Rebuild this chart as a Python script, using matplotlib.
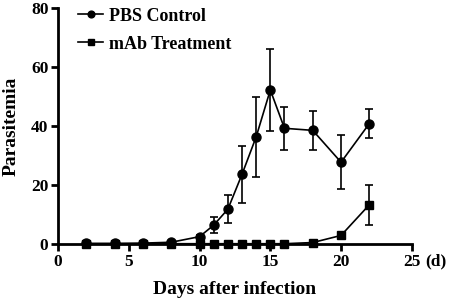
import matplotlib
matplotlib.use("Agg")
import matplotlib.pyplot as plt

days = [2, 4, 6, 8, 10, 11, 12, 13, 14, 15, 16, 18, 20, 22]
pbs_mean = [0.2, 0.2, 0.3, 0.6, 2.5, 6.4, 11.8, 23.6, 36.3, 52.2, 39.2, 38.5, 27.7, 40.8]
pbs_err = [0.1, 0.1, 0.2, 0.3, 0.5, 2.6, 4.8, 9.6, 13.5, 14.0, 7.3, 6.5, 9.1, 5.0]
mab_mean = [0.1, 0.1, 0.1, 0.1, 0.1, 0.1, 0.1, 0.1, 0.1, 0.1, 0.1, 0.5, 2.9, 13.3]
mab_err = [0, 0, 0, 0, 0, 0, 0, 0, 0, 0, 0, 0.3, 1.0, 6.8]
x_ticks = [0, 5, 10, 15, 20, 25]
y_ticks = [0, 20, 40, 60, 80]

plt.rcParams['font.family'] = ['Liberation Serif', 'DejaVu Serif']
plt.rcParams['font.weight'] = 'bold'

fig = plt.figure(figsize=(4.54, 3.02), dpi=100)
ax = fig.add_axes([0.128, 0.192, 0.779, 0.782])

ax.errorbar(days, pbs_mean, yerr=pbs_err, color='black', marker='o', markersize=6.5,
            linewidth=1.2, elinewidth=1.2, capsize=3, capthick=1.2, label='PBS Control', zorder=3, clip_on=False)
ax.errorbar(days, mab_mean, yerr=mab_err, color='black', marker='s', markersize=6,
            linewidth=1.2, elinewidth=1.2, capsize=3, capthick=1.2, label='mAb Treatment', zorder=3, clip_on=False)

ax.set_xlim(0, 25)
ax.set_ylim(0, 80)
ax.set_xticks(x_ticks)
ax.set_yticks(y_ticks)
ax.spines['top'].set_visible(False)
ax.spines['right'].set_visible(False)
ax.spines['left'].set_linewidth(2)
ax.spines['bottom'].set_linewidth(2)
ax.tick_params(direction='out', width=2, length=5, labelsize=12.5, pad=2)
for lab in ax.get_xticklabels() + ax.get_yticklabels():
    lab.set_fontweight('bold')

ax.set_xlabel('Days after infection', fontsize=14, fontweight='bold', labelpad=8)
ax.set_ylabel('Parasitemia', fontsize=14, fontweight='bold', labelpad=8)
ax.annotate('(d)', xy=(1.0, 0), xycoords='axes fraction', xytext=(10, -7),
            textcoords='offset points', fontsize=12.5, fontweight='bold',
            ha='left', va='top', annotation_clip=False)

handles, labels = ax.get_legend_handles_labels()
handles = [h[0] for h in handles]
leg = ax.legend(handles, labels, loc='upper left', bbox_to_anchor=(0.01, 1.07), frameon=False,
                prop={'weight': 'bold', 'size': 13}, handlelength=1.4, handletextpad=0.3,
                labelspacing=0.62, markerscale=0.75)

fig.savefig('out.png', dpi=100)
